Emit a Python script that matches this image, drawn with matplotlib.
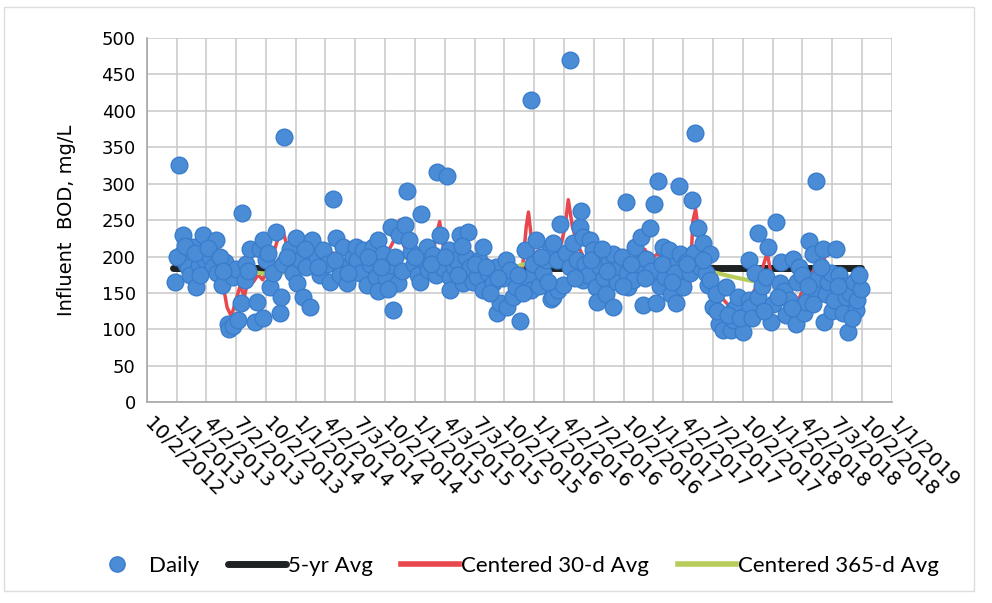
import matplotlib
matplotlib.use("Agg")
import matplotlib.pyplot as plt
import pandas as pd
from matplotlib.lines import Line2D
from matplotlib.patches import Rectangle

# ── Data ──────────────────────────────────────────────────────────────────────
daily_dates = [
    "2012-12-27", "2013-01-08", "2013-01-16", "2013-01-21", "2013-01-29", "2013-02-05",
    "2013-02-11", "2013-02-21", "2013-03-03", "2013-03-10", "2013-03-23", "2013-03-28",
    "2013-04-13", "2013-04-22", "2013-05-03", "2013-05-04", "2013-05-19", "2013-05-29",
    "2013-06-08", "2013-06-10", "2013-06-23", "2013-06-24", "2013-07-02", "2013-07-09",
    "2013-07-19", "2013-07-20", "2013-07-29", "2013-08-03", "2013-08-13", "2013-08-28",
    "2013-09-03", "2013-09-13", "2013-09-23", "2013-09-24", "2013-10-03", "2013-10-13",
    "2013-10-23", "2013-11-03", "2013-11-13", "2013-11-18", "2013-11-23", "2013-11-25",
    "2013-12-14", "2013-12-23", "2014-01-03", "2014-01-04", "2014-01-13", "2014-01-24",
    "2014-02-03", "2014-02-13", "2014-02-19", "2014-03-06", "2014-03-16", "2014-03-26",
    "2014-04-06", "2014-04-15", "2014-04-25", "2014-05-06", "2014-05-16", "2014-05-26",
    "2014-06-06", "2014-06-16", "2014-06-25", "2014-07-06", "2014-07-07", "2014-07-16",
    "2014-07-26", "2014-08-06", "2014-08-16", "2014-08-26", "2014-09-05", "2014-09-10",
    "2014-09-11", "2014-09-25", "2014-10-04", "2014-10-16", "2014-10-21", "2014-10-26",
    "2014-10-31", "2014-11-10", "2014-11-15", "2014-11-24", "2014-12-01", "2014-12-08",
    "2014-12-21", "2014-12-28", "2015-01-11", "2015-01-16", "2015-01-19", "2015-01-28",
    "2015-02-06", "2015-02-10", "2015-02-25", "2015-03-06", "2015-03-11", "2015-03-18",
    "2015-03-28", "2015-04-10", "2015-04-17", "2015-04-18", "2015-04-19", "2015-04-30",
    "2015-05-08", "2015-05-18", "2015-05-28", "2015-06-06", "2015-06-13", "2015-06-18",
    "2015-06-27", "2015-07-09", "2015-07-16", "2015-07-29", "2015-07-30", "2015-08-12",
    "2015-08-28", "2015-09-08", "2015-09-09", "2015-09-18", "2015-09-27", "2015-10-08",
    "2015-10-09", "2015-10-18", "2015-10-28", "2015-11-08", "2015-11-20", "2015-12-03",
    "2015-12-13", "2015-12-22", "2015-12-24", "2015-12-29", "2016-01-08", "2016-01-15",
    "2016-01-28", "2016-02-06", "2016-02-18", "2016-02-23", "2016-02-28", "2016-02-29",
    "2016-03-10", "2016-03-14", "2016-03-20", "2016-03-30", "2016-04-07", "2016-04-19",
    "2016-04-21", "2016-04-29", "2016-05-11", "2016-05-20", "2016-05-25", "2016-05-30",
    "2016-05-31", "2016-06-04", "2016-06-13", "2016-06-19", "2016-06-29", "2016-07-10",
    "2016-07-11", "2016-07-20", "2016-08-01", "2016-08-09", "2016-08-19", "2016-08-29",
    "2016-08-30", "2016-09-10", "2016-09-19", "2016-09-28", "2016-10-10", "2016-10-11",
    "2016-10-14", "2016-10-30", "2016-11-04", "2016-11-13", "2016-11-24", "2016-11-29",
    "2016-12-10", "2016-12-20", "2016-12-23", "2017-01-02", "2017-01-10", "2017-01-14",
    "2017-01-20", "2017-01-30", "2017-02-04", "2017-02-13", "2017-02-19", "2017-02-24",
    "2017-03-07", "2017-03-12", "2017-03-20", "2017-03-22", "2017-04-01", "2017-04-10",
    "2017-04-22", "2017-04-30", "2017-05-04", "2017-05-09", "2017-05-17", "2017-05-22",
    "2017-06-01", "2017-06-12", "2017-06-17", "2017-06-22", "2017-06-23", "2017-07-02",
    "2017-07-12", "2017-07-22", "2017-08-01", "2017-08-12", "2017-08-27", "2017-09-01",
    "2017-09-02", "2017-09-12", "2017-09-16", "2017-10-02", "2017-10-03", "2017-10-21",
    "2017-10-22", "2017-10-23", "2017-11-07", "2017-11-17", "2017-11-18", "2017-11-28",
    "2017-12-13", "2017-12-17", "2017-12-28", "2018-01-01", "2018-01-12", "2018-01-22",
    "2018-01-27", "2018-02-06", "2018-02-11", "2018-02-21", "2018-03-04", "2018-03-14",
    "2018-03-18", "2018-03-24", "2018-04-02", "2018-04-08", "2018-04-13", "2018-04-23",
    "2018-05-04", "2018-05-14", "2018-05-15", "2018-05-21", "2018-06-03", "2018-06-08",
    "2018-06-13", "2018-06-20", "2018-06-29", "2018-07-03", "2018-07-09", "2018-07-14",
    "2018-07-24", "2018-08-04", "2018-08-09", "2018-08-14", "2018-08-19", "2018-08-27",
    "2018-09-08", "2018-09-13", "2018-09-17", "2018-09-28",
    # more samples hidden inside the dense band
    "2013-01-01", "2013-01-26", "2013-02-26", "2013-03-13", "2013-04-07", "2013-05-13",
    "2013-05-24", "2013-08-07", "2013-10-07", "2013-12-05", "2014-01-29", "2014-03-10",
    "2014-04-30", "2014-06-10", "2014-08-10", "2014-09-18", "2014-10-10", "2014-12-13",
    "2015-01-03", "2015-02-18", "2015-04-02", "2015-05-12", "2015-05-24", "2015-07-03",
    "2015-08-06", "2015-08-18", "2015-09-12", "2015-11-12", "2015-11-27", "2016-01-21",
    "2016-02-12", "2016-05-05", "2016-06-25", "2016-07-26", "2016-08-13", "2016-10-01",
    "2016-10-23", "2016-12-05", "2017-01-26", "2017-02-28", "2017-04-15", "2017-06-03",
    "2017-07-16", "2017-08-16", "2017-09-22", "2017-10-31", "2017-12-04", "2018-01-16",
    "2018-02-28", "2018-04-18", "2018-05-06", "2018-05-30", "2018-07-19", "2018-09-02",
    "2018-09-24",
]
daily_bod = [
    165, 325, 202, 229, 190, 185,
    175, 213, 158, 188, 229, 195,
    200, 185, 222, 177, 161, 192,
    108, 100, 172, 105, 183, 113,
    136, 260, 168, 190, 211, 110,
    138, 210, 222, 115, 195, 158,
    178, 234, 122, 145, 190, 364,
    210, 178, 225, 163, 195, 145,
    186, 131, 222, 200, 175, 209,
    190, 165, 279, 225, 175, 213,
    163, 190, 200, 213, 195, 177,
    209, 161, 190, 213, 172, 222,
    152, 204, 170, 188, 241, 126,
    200, 163, 229, 180, 243, 290,
    206, 190, 174, 165, 259, 195,
    213, 181, 202, 175, 316, 229,
    184, 310, 209, 172, 154, 185,
    195, 229, 163, 200, 234, 186,
    165, 172, 195, 213, 154, 178,
    163, 186, 122, 136, 170, 195,
    131, 182, 145, 158, 112, 209,
    170, 415, 154, 190, 222, 160,
    177, 195, 209, 142, 218, 145,
    195, 154, 245, 161, 205, 186,
    470, 218, 195, 241, 263, 227,
    168, 190, 175, 222, 209, 158,
    138, 186, 170, 149, 195, 204,
    131, 165, 186, 200, 275, 177,
    158, 168, 213, 190, 227, 133,
    197, 239, 180, 272, 136, 304,
    160, 213, 172, 190, 209, 149,
    177, 136, 297, 204, 158, 192,
    177, 277, 205, 369, 239, 185,
    218, 177, 161, 204, 168, 131,
    149, 108, 99, 158, 99, 113,
    126, 131, 145, 117, 97, 140,
    195, 131, 177, 232, 145, 160,
    172, 213, 110, 135, 247, 163,
    193, 152, 120, 140, 197, 108,
    165, 186, 175, 122, 138, 221,
    204, 303, 152, 170, 211, 110,
    149, 165, 177, 125, 140, 210,
    174, 122, 160, 145, 97, 150,
    165, 126, 140, 156,
    200, 215, 205, 175, 212, 200,
    180, 180, 205, 200, 210, 185,
    195, 178, 200, 185, 155, 222,
    200, 190, 200, 175, 215, 190,
    185, 150, 170, 175, 150, 200,
    165, 170, 195, 210, 180, 160,
    190, 170, 190, 165, 190, 195,
    125, 120, 115, 115, 125, 145,
    130, 160, 135, 185, 160, 115,
    175,
]

five_yr_dates = ["2012-12-21", "2018-09-30"]
five_yr_avg = [184, 184]

avg30_dates = [
    "2013-01-05", "2013-01-20", "2013-02-05", "2013-02-20", "2013-03-08", "2013-03-22",
    "2013-04-08", "2013-04-22", "2013-05-08", "2013-05-22", "2013-06-05", "2013-06-18",
    "2013-07-02", "2013-07-15", "2013-07-28", "2013-08-10", "2013-08-24", "2013-09-08",
    "2013-09-22", "2013-10-08", "2013-10-22", "2013-11-08", "2013-11-20", "2013-12-05",
    "2013-12-20", "2014-01-08", "2014-01-25", "2014-02-12", "2014-03-01", "2014-03-20",
    "2014-04-08", "2014-04-25", "2014-05-12", "2014-06-01", "2014-06-20", "2014-07-10",
    "2014-07-30", "2014-08-20", "2014-09-10", "2014-09-30", "2014-10-15", "2014-11-01",
    "2014-11-15", "2014-11-28", "2014-12-12", "2015-01-01", "2015-01-20", "2015-02-08",
    "2015-02-22", "2015-03-08", "2015-03-18", "2015-04-01", "2015-04-20", "2015-05-10",
    "2015-05-30", "2015-06-20", "2015-07-10", "2015-07-30", "2015-08-15", "2015-08-30",
    "2015-09-15", "2015-10-05", "2015-10-25", "2015-11-10", "2015-11-25", "2015-12-08",
    "2015-12-15", "2015-12-28", "2016-01-15", "2016-02-05", "2016-02-25", "2016-03-15",
    "2016-04-05", "2016-04-15", "2016-04-28", "2016-05-15", "2016-06-05", "2016-06-25",
    "2016-07-15", "2016-08-05", "2016-08-25", "2016-09-15", "2016-10-05", "2016-10-25",
    "2016-11-15", "2016-12-05", "2016-12-25", "2017-01-15", "2017-02-05", "2017-02-25",
    "2017-03-15", "2017-04-05", "2017-04-22", "2017-05-02", "2017-05-10", "2017-05-25",
    "2017-06-10", "2017-06-28", "2017-07-15", "2017-08-05", "2017-08-25", "2017-09-15",
    "2017-10-05", "2017-10-25", "2017-11-15", "2017-12-05", "2017-12-15", "2017-12-30",
    "2018-01-20", "2018-02-10", "2018-03-01", "2018-03-20", "2018-04-10", "2018-04-30",
    "2018-05-20", "2018-06-05", "2018-06-25", "2018-07-15", "2018-08-05", "2018-08-25",
    "2018-09-15",
]
avg30_bod = [
    235, 215, 200, 190, 205, 200,
    195, 190, 180, 165, 130, 118,
    140, 160, 145, 172, 165, 175,
    168, 185, 200, 225, 240, 215,
    200, 195, 185, 178, 190, 195,
    200, 205, 195, 185, 180, 190,
    185, 195, 200, 190, 210, 225,
    250, 215, 205, 190, 200, 210,
    195, 230, 248, 205, 185, 180,
    190, 185, 175, 180, 195, 170,
    165, 175, 160, 150, 175, 240,
    261, 210, 195, 205, 190, 200,
    240, 278, 240, 215, 195, 175,
    185, 195, 180, 190, 205, 185,
    200, 210, 195, 205, 190, 175,
    185, 170, 160, 250, 265, 215,
    190, 160, 150, 140, 130, 125,
    130, 145, 160, 190, 205, 170,
    165, 160, 150, 140, 160, 175,
    195, 205, 160, 145, 150, 140,
    135,
]

avg365_dates = [
    "2013-06-20", "2013-07-15", "2013-08-28", "2013-10-13", "2013-11-28", "2014-01-13",
    "2014-03-16", "2014-05-16", "2014-07-16", "2014-09-17", "2014-11-15", "2015-01-16",
    "2015-03-18", "2015-05-18", "2015-07-16", "2015-09-18", "2015-11-06", "2015-12-19",
    "2016-02-18", "2016-04-19", "2016-05-30", "2016-07-20", "2016-10-14", "2017-01-20",
    "2017-04-22", "2017-06-12", "2017-09-01", "2017-11-14", "2018-01-22", "2018-03-24",
]
avg365_bod = [
    188, 182, 178, 176, 178, 183,
    188, 190, 192, 195, 198, 200,
    198, 195, 190, 186, 186, 192,
    195, 197, 200, 198, 198, 195,
    188, 181, 172, 165, 163, 165,
]

tick_labels = [
    "10/2/2012", "1/1/2013", "4/2/2013", "7/2/2013", "10/2/2013", "1/1/2014",
    "4/2/2014", "7/3/2014", "10/2/2014", "1/1/2015", "4/3/2015", "7/3/2015",
    "10/2/2015", "1/1/2016", "4/2/2016", "7/2/2016", "10/2/2016", "1/1/2017",
    "4/2/2017", "7/2/2017", "10/2/2017", "1/1/2018", "4/2/2018", "7/3/2018",
    "10/2/2018", "1/1/2019",
]

BLUE = "#4A8CD6"
BLUE_EDGE = "#3A7DCC"
BLACK = "#1E2222"
RED = "#E8474E"
GREEN = "#B8CC5C"

plt.rcParams["font.family"] = "DejaVu Sans"

fig = plt.figure(figsize=(9.92, 6.03), dpi=100)
ax = fig.add_axes([0.148, 0.333, 0.751, 0.604])

ax.plot(pd.to_datetime(five_yr_dates), five_yr_avg, color=BLACK, lw=5, solid_capstyle="round", zorder=2)
ax.plot(pd.to_datetime(avg30_dates), avg30_bod, color=RED, lw=2.5, zorder=2)
ax.plot(pd.to_datetime(avg365_dates), avg365_bod, color=GREEN, lw=3, zorder=2)
ax.plot(pd.to_datetime(daily_dates), daily_bod, "o", ms=12, mfc=BLUE, mec=BLUE_EDGE, mew=1, zorder=3)

ticks = pd.to_datetime(tick_labels, format="%m/%d/%Y")
ax.set_xticks(ticks)
ax.set_xticklabels(tick_labels, rotation=-45, ha="left", va="center", rotation_mode="anchor", fontsize=14.5)
ax.set_xlim(ticks[0], ticks[-1])
ax.set_ylim(0, 500)
ax.set_yticks(range(0, 501, 50))
ax.tick_params(axis="y", labelsize=13, length=0, pad=8)
ax.tick_params(axis="x", length=0, pad=13)
ax.grid(True, color="#C8C8C8", lw=1.1)
ax.set_axisbelow(True)
for side in ["top", "right"]:
    ax.spines[side].set_visible(False)
for side in ["left", "bottom"]:
    ax.spines[side].set_color("#A8A8A8")
    ax.spines[side].set_linewidth(1.2)
ax.set_ylabel("Influent  BOD, mg/L", fontsize=14, labelpad=18)

handles = [
    Line2D([], [], ls="none", marker="o", ms=11, mfc=BLUE, mec=BLUE_EDGE),
    Line2D([], [], color=BLACK, lw=5, solid_capstyle="round"),
    Line2D([], [], color=RED, lw=4),
    Line2D([], [], color=GREEN, lw=4),
]
labels = ["Daily", "5-yr Avg", "Centered 30-d Avg", "Centered 365-d Avg"]
fig.legend(handles, labels, loc="center", bbox_to_anchor=(0.518, 0.061), ncol=4, frameon=False,
           handlelength=2.6, handletextpad=0.1, columnspacing=1.3,
           prop={"family": "Lato", "size": 16})

fig.patches.append(Rectangle((0.004, 0.02), 0.978, 0.968, transform=fig.transFigure,
                             fill=False, edgecolor="#DDDDDD", lw=1))

fig.savefig("out.png", dpi=100)
